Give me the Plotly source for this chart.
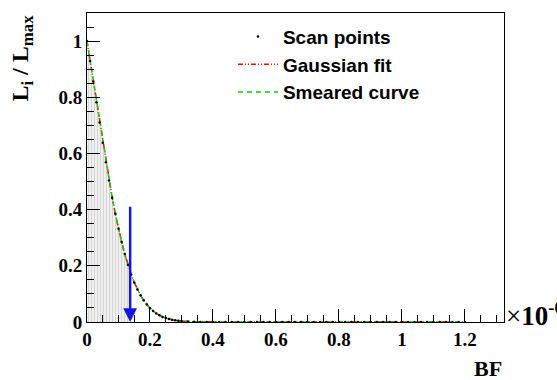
import plotly.graph_objects as go

# Scan points (BF in units of 1e-6, likelihood ratio L_i/L_max)
scan_bf = [0.00, 0.01, 0.02, 0.03, 0.04, 0.05, 0.06, 0.07, 0.08, 0.09,
           0.10, 0.11, 0.12, 0.13, 0.14, 0.15, 0.16, 0.17, 0.18, 0.19,
           0.20, 0.21, 0.22, 0.23, 0.24, 0.25, 0.26, 0.27, 0.28, 0.29,
           0.30, 0.32, 0.34, 0.36, 0.38, 0.40, 0.42, 0.44, 0.46, 0.48,
           0.50, 0.52, 0.54, 0.56, 0.58, 0.60, 0.62, 0.64, 0.66, 0.68,
           0.70, 0.72, 0.74, 0.76, 0.78, 0.80, 0.82, 0.84, 0.86, 0.88,
           0.90, 0.92, 0.94, 0.96, 0.98, 1.00, 1.02, 1.04, 1.06, 1.08,
           1.10, 1.12, 1.14, 1.16, 1.18, 1.20]
scan_l = [1.000, 0.929, 0.856, 0.782, 0.710, 0.638, 0.569, 0.504, 0.442, 0.385,
          0.332, 0.285, 0.242, 0.204, 0.170, 0.141, 0.116, 0.095, 0.077, 0.062,
          0.049, 0.039, 0.030, 0.024, 0.018, 0.014, 0.011, 0.008, 0.006, 0.0044,
          0.0032, 0.0017, 0.0009, 0.0004, 0.0002, 0.0001, 0.0, 0.0, 0.0, 0.0,
          0.0, 0.0, 0.0, 0.0, 0.0, 0.0, 0.0, 0.0, 0.0, 0.0,
          0.0, 0.0, 0.0, 0.0, 0.0, 0.0, 0.0, 0.0, 0.0, 0.0,
          0.0, 0.0, 0.0, 0.0, 0.0, 0.0, 0.0, 0.0, 0.0, 0.0,
          0.0, 0.0, 0.0, 0.0, 0.0, 0.0]
# Gaussian fit and smeared curve (overlap the scan points)
fit_l = list(scan_l)
smeared_l = list(scan_l)

# Upper limit
limit_bf = 0.137
limit_l = 0.18
arrow_top = 0.416

shade_x = [b for b in scan_bf if b < limit_bf] + [limit_bf]
shade_y = [l for b, l in zip(scan_bf, scan_l) if b < limit_bf] + [limit_l]

SERIF = "Liberation Serif"
SANS = "Liberation Sans"

fig = go.Figure()
fig.add_trace(go.Scatter(
    x=shade_x, y=shade_y, mode="lines", line=dict(width=0, color="gray"),
    fill="tozeroy", fillcolor="rgba(200,200,200,0.5)",
    fillpattern=dict(shape="|", size=3, solidity=0.3, fgcolor="#b4b4b4", bgcolor="#f0f0f0"),
    showlegend=False, hoverinfo="skip"))
fig.add_trace(go.Scatter(
    x=scan_bf, y=fit_l, mode="lines", name="<b>Gaussian fit</b>", legendrank=2,
    line=dict(color="red", width=1.5, dash="5px,2px,1px,2px,1px,2px")))
fig.add_trace(go.Scatter(
    x=scan_bf, y=smeared_l, mode="lines", name="<b>Smeared curve</b>", legendrank=3,
    line=dict(color="rgb(0,210,0)", width=1.5, dash="5px,4px")))
fig.add_trace(go.Scatter(
    x=scan_bf, y=scan_l, mode="markers", name="<b>Scan points</b>", legendrank=1,
    marker=dict(color="black", size=2.5)))

fig.add_annotation(
    x=limit_bf, y=0, ax=limit_bf, ay=arrow_top, xref="x", yref="y",
    axref="x", ayref="y", showarrow=True, arrowhead=2, arrowsize=1.1,
    arrowwidth=2.5, arrowcolor="rgb(20,20,230)", text="")

fig.add_annotation(
    x=-0.158, y=1.0, xref="paper", yref="paper", xanchor="center", yanchor="top",
    text="<b>L<sub>i</sub> / L<sub>max</sub></b>", textangle=-90, showarrow=False,
    font=dict(family=SERIF, size=24, color="black"))
fig.add_annotation(
    x=1.0, y=-0.105, xref="paper", yref="paper", xanchor="right", yanchor="top",
    text="<b>BF</b>", showarrow=False, font=dict(family=SERIF, size=22, color="black"))
fig.add_annotation(
    x=1.0, y=0.0, xref="paper", yref="paper", xanchor="left", yanchor="bottom",
    xshift=0, yshift=-11,
    text="×<b>10<sup>-6</sup></b>", showarrow=False, font=dict(family=SERIF, size=27, color="black"))

axis_common = dict(
    showgrid=False, zeroline=False, showline=True, linecolor="black", linewidth=1,
    mirror=True, ticks="inside", ticklen=13, tickcolor="black", tickwidth=1,
    tickfont=dict(family=SERIF, size=19, color="black"),
)
fig.update_xaxes(range=[0, 1.324], tickmode="array",
                 tickvals=[0, 0.2, 0.4, 0.6, 0.8, 1.0, 1.2],
                 ticktext=["<b>0</b>", "<b>0.2</b>", "<b>0.4</b>", "<b>0.6</b>", "<b>0.8</b>", "<b>1</b>", "<b>1.2</b>"],
                 minor=dict(dtick=0.05, tick0=0, ticks="inside", ticklen=7, tickcolor="black"),
                 **axis_common)
fig.update_yaxes(range=[0, 1.1], tickmode="array",
                 tickvals=[0, 0.2, 0.4, 0.6, 0.8, 1.0],
                 ticktext=["<b>0</b>", "<b>0.2</b>", "<b>0.4</b>", "<b>0.6</b>", "<b>0.8</b>", "<b>1</b>"],
                 minor=dict(dtick=0.05, tick0=0, ticks="inside", ticklen=7, tickcolor="black"),
                 **axis_common)

fig.update_layout(
    width=557, height=380, margin=dict(l=87, r=53, t=13, b=58),
    plot_bgcolor="white", paper_bgcolor="white",
    showlegend=True,
    legend=dict(x=0.35, y=0.985, xanchor="left", yanchor="top",
                bgcolor="rgba(0,0,0,0)", borderwidth=0,
                font=dict(family=SANS, size=19, color="black"),
                itemwidth=40, tracegroupgap=0),
)

fig.write_html("out.html")
